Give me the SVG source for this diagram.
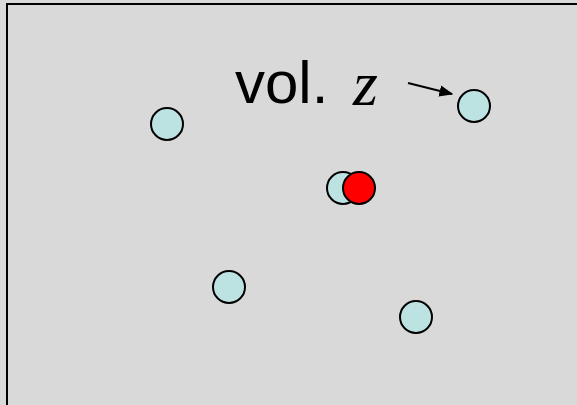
<svg xmlns="http://www.w3.org/2000/svg" width="577" height="405" viewBox="0 0 577 405">
<style>
.pt{fill:#bde2e2;stroke:#000;stroke-width:2}
.red{fill:#ff0000;stroke:#000;stroke-width:2}
</style>
<defs>
<marker id="ah" viewBox="0 0 10 10" refX="9" refY="5" markerWidth="7" markerHeight="7" orient="auto" markerUnits="strokeWidth">
<path d="M0,1 L10,5 L0,9 Z" fill="#000"/>
</marker>
</defs>
<rect x="0" y="0" width="577" height="405" fill="#d9d9d9"/>
<rect x="7" y="4" width="600" height="430" fill="#d9d9d9" stroke="#000" stroke-width="2"/>
<g id="connectors">
<line x1="408" y1="83" x2="452" y2="94" stroke="#000" stroke-width="2" marker-end="url(#ah)"/>
</g>
<g id="label">
<text x="235" y="103" font-family="Liberation Sans, Arial, sans-serif" font-size="60">vol.</text>
<text x="353" y="105" font-family="Liberation Serif, Times New Roman, serif" font-style="italic" font-size="64">z</text>
</g>
<g id="n1"><circle class="pt" cx="167" cy="124" r="16"/></g>
<g id="n2"><circle class="pt" cx="474" cy="106" r="16"/></g>
<g id="n3"><circle class="pt" cx="343" cy="188" r="16"/></g>
<g id="n4"><circle class="red" cx="359" cy="188" r="16"/></g>
<g id="n5"><circle class="pt" cx="229" cy="287" r="16"/></g>
<g id="n6"><circle class="pt" cx="416" cy="317" r="16"/></g>
</svg>
